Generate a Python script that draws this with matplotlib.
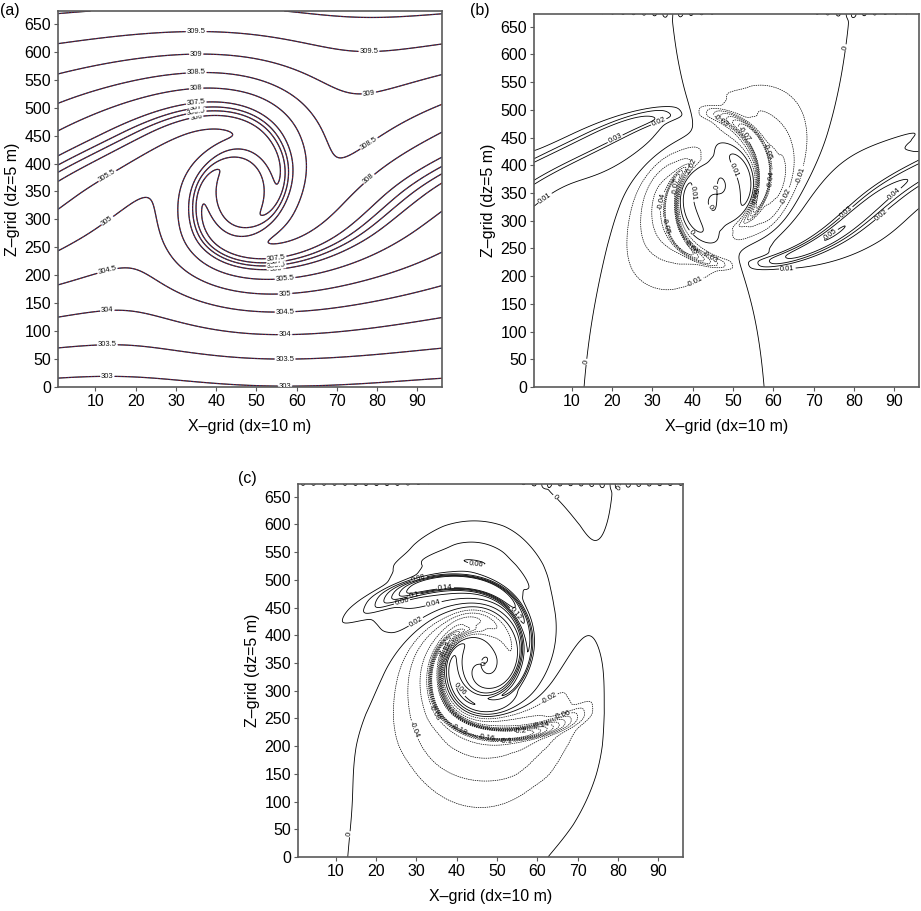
import numpy as np
import matplotlib
matplotlib.use("Agg")
import matplotlib.pyplot as plt

plt.rcParams['font.family'] = ['Liberation Sans', 'DejaVu Sans']

# ---------------- values ----------------
THETA_LEVELS = [303.0, 303.5, 304.0, 304.5, 305.0, 305.5, 306.0, 306.5,
                307.0, 307.5, 308.0, 308.5, 309.0, 309.5, 310.0]
DIFF_B_LEVELS = [-0.07, -0.06, -0.05, -0.04, -0.03, -0.02, -0.01, 0.0,
                 0.01, 0.02, 0.03, 0.04, 0.05]
DIFF_C_LEVELS = [-0.2, -0.18, -0.16, -0.14, -0.12, -0.1, -0.08, -0.06, -0.04,
                 -0.02, 0.0, 0.02, 0.04, 0.06, 0.08, 0.1, 0.12, 0.14]
X_TICKS = [10, 20, 30, 40, 50, 60, 70, 80, 90]
Z_TICKS = [0, 50, 100, 150, 200, 250, 300, 350, 400, 450, 500, 550, 600, 650]
PANEL_TAGS = ['(a)', '(b)', '(c)']
X_LABEL = 'X\u2013grid (dx=10 m)'
Z_LABEL = 'Z\u2013grid (dz=5 m)'

# undisturbed potential temperature profile (height m, K)
BG_Z = [-200, 0, 11, 62, 113, 165, 212, 262, 318, 338, 358, 380, 455, 515, 568, 620, 672, 900]
BG_T = [300.95, 302.92, 303.0, 303.5, 304.0, 304.5, 305.0, 305.5, 306.0, 306.5,
        307.0, 307.5, 308.0, 308.5, 309.0, 309.5, 310.0, 312.2]

# billow (roll-up) parameters
BILLOW_X, BILLOW_Z = 46.0, 348.0     # centre of the billow (grid x, m)
BILLOW_RHO = 0.8                     # cat's-eye concentration
BILLOW_TURN = 1.4                    # amount of roll-up
BILLOW_SCALE = 9.5                   # flow-model metres per x-grid unit
CORE_THETA = 306.75                  # well-mixed billow core
CORE_RADIUS = 75.0
BRAID_LIFT = 35.0                    # braid sits higher than billow centre
# vertical motion dies away from the billow (height above/below centre, factor)
DAMP_DZ = [-400, -290, -200, -150, -100, -40, 100, 180, 250, 330, 400]
DAMP_W = [0.3, 0.3, 0.4, 0.48, 0.62, 1.0, 1.0, 0.65, 0.42, 0.3, 0.3]
X_PERIOD = 96.0
SHIFT_B = 0.25                       # (b): phase shift between the two runs
SHIFT_B_CORE = 0.8                   # (b): the core itself hardly moves
SHIFT_C = 0.1
CONTRACT_C = 0.025                   # (c): tighter roll-up of the second run
TOP_RIPPLE = 0.0012

# where the contour labels of (a) sit along x
LABEL_X_LOW = [13, 57]
LABEL_X_HIGH = [35, 78]
LABEL_X_BILLOW = [35, 55]

XLIM = (0.7, 96.1)
ZLIM = (0, 673)

# smooth version of the background profile
_zf = np.arange(-200.0, 901.0, 1.0)
_tf = np.interp(_zf, BG_Z, BG_T)
_kern = np.exp(-0.5 * (np.arange(-40, 41) / 10.0) ** 2)
_kern /= _kern.sum()
_tf = np.convolve(np.pad(_tf, 40, mode='edge'), _kern, mode='same')[40:-40]


def theta_field(xq, zq, nstep=70):
    """Potential temperature of a rolled-up shear layer (Stuart-vortex advection)."""
    L = X_PERIOD * BILLOW_SCALE
    k = 2 * np.pi / L
    U = 1.0 / k
    lift = BRAID_LIFT * (1 - np.cos(2 * np.pi * (xq - BILLOW_X) / X_PERIOD)) / 2 \
        * np.exp(-((zq - BILLOW_Z) / 100.0) ** 2)
    X0 = (xq - BILLOW_X) * BILLOW_SCALE
    Z0 = zq - lift - BILLOW_Z
    X, Z = X0, Z0

    def vel(X, Z):
        D = np.cosh(k * Z) - BILLOW_RHO * np.cos(k * X)
        g = np.interp(Z, DAMP_DZ, DAMP_W)
        return -U * np.sinh(k * Z) / D, U * BILLOW_RHO * np.sin(k * X) / D * g

    dt = BILLOW_TURN / nstep
    for _ in range(nstep):
        u1, w1 = vel(X, Z)
        u2, w2 = vel(X + 0.5 * dt * u1, Z + 0.5 * dt * w1)
        u3, w3 = vel(X + 0.5 * dt * u2, Z + 0.5 * dt * w2)
        u4, w4 = vel(X + dt * u3, Z + dt * w3)
        X = X + dt / 6 * (u1 + 2 * u2 + 2 * u3 + u4)
        Z = Z + dt / 6 * (w1 + 2 * w2 + 2 * w3 + w4)
    th = np.interp(Z + BILLOW_Z, _zf, _tf)
    # turbulent mixing homogenises the core of the billow
    r = np.hypot(X0, Z0)
    keep = 1 - np.exp(-(r / CORE_RADIUS) ** 4)
    return CORE_THETA + (th - CORE_THETA) * keep


x = np.linspace(XLIM[0], XLIM[1], 390)
z = np.linspace(ZLIM[0], ZLIM[1], 460)
xx, zz = np.meshgrid(x, z)
rr = np.hypot((xx - BILLOW_X) * BILLOW_SCALE, zz - BILLOW_Z)

theta = theta_field(xx, zz)
# (b) second run slightly shifted along x (outer flow only)
shift = SHIFT_B * (1 - SHIFT_B_CORE * np.exp(-(rr / 110.0) ** 4))
diff_b = theta_field(xx - shift, zz) - theta
# (c) second run rolled up more tightly around the billow centre
fac = 1 + CONTRACT_C * np.exp(-(rr / 240.0) ** 4)
diff_c = theta_field(BILLOW_X + (xx - BILLOW_X) * fac - SHIFT_C,
                     BILLOW_Z + (zz - BILLOW_Z) * fac) - theta
# noise at the lid
ripple = TOP_RIPPLE * np.sin(2 * np.pi * xx / 2.6) * np.exp(-(ZLIM[1] - zz) / 3.0)
diff_b = diff_b + ripple
diff_c = diff_c + ripple

# ---------------- figure ----------------
fig = plt.figure(figsize=(9.21, 9.11), dpi=100)
W, H = 921.0, 911.0
ax_a = fig.add_axes([58 / W, 1 - 387 / H, 384 / W, 376 / H])
ax_b = fig.add_axes([534 / W, 1 - 387 / H, 385 / W, 373 / H])
ax_c = fig.add_axes([298 / W, 1 - 857 / H, 385 / W, 373 / H])

SPINE = '#5a5a5a'
for ax in (ax_a, ax_b, ax_c):
    ax.set_xlim(*XLIM)
    ax.set_ylim(*ZLIM)
    ax.set_xticks(X_TICKS)
    ax.set_yticks(Z_TICKS)
    ax.tick_params(direction='out', length=3, width=0.8, color=SPINE,
                   labelsize=11.5, pad=2)
    for s in ax.spines.values():
        s.set_color(SPINE)
        s.set_linewidth(1.2)
    ax.set_xlabel(X_LABEL, fontsize=11.5, labelpad=7)
    ax.set_ylabel(Z_LABEL, fontsize=11.5, labelpad=3)

# (a) theta, three overlaid runs
cs_a = ax_a.contour(x, z, theta, levels=THETA_LEVELS, colors='#111111',
                    linewidths=0.9)
ax_a.contour(x, z, theta, levels=THETA_LEVELS, colors='#e8202a',
             linewidths=0.45, linestyles=[(0, (1.6, 3.0))])
ax_a.contour(x, z, theta, levels=THETA_LEVELS, colors='#4050d0',
             linewidths=0.45, linestyles=[(2.3, (1.6, 3.0))])


def crossings(level, x0):
    ix = int(np.argmin(np.abs(x - x0)))
    col = theta[:, ix]
    s = np.sign(col - level)
    idx = np.where(s[:-1] * s[1:] < 0)[0]
    out = []
    for i in idx:
        f = (level - col[i]) / (col[i + 1] - col[i])
        out.append((x[ix], z[i] + f * (z[i + 1] - z[i])))
    return out


label_pts = []
for lev in THETA_LEVELS[:-1]:
    if lev <= 305.5:
        for xl in LABEL_X_LOW:
            c = crossings(lev, xl)
            if c:
                label_pts.append(c[0])
    elif lev >= 308.0:
        for xl in LABEL_X_HIGH:
            c = crossings(lev, xl)
            if c:
                label_pts.append(c[-1])
    else:
        c = crossings(lev, LABEL_X_BILLOW[0])
        if c:
            label_pts.append(c[-1])
        c = crossings(lev, LABEL_X_BILLOW[1])
        if c:
            label_pts.append(c[0])

ax_a.clabel(cs_a, fmt='%g', fontsize=5.5, inline=True, inline_spacing=1,
            manual=label_pts)
for t in ax_a.texts:
    t.set_bbox(dict(fc='white', ec='none', pad=0.2))
    t.set_zorder(5)


def diff_panel(ax, field, levels):
    neg = [v for v in levels if v < 0]
    pos = [v for v in levels if v >= 0]
    c1 = ax.contour(x, z, field, levels=neg, colors='k', linewidths=0.5,
                    linestyles=[(0, (2.0, 1.2))])
    c2 = ax.contour(x, z, field, levels=pos, colors='k', linewidths=0.6,
                    linestyles='solid')
    ax.clabel(c1, fmt='%g', fontsize=5.5, inline=True, inline_spacing=1)
    ax.clabel(c2, fmt='%g', fontsize=5.5, inline=True, inline_spacing=1)


diff_panel(ax_b, diff_b, DIFF_B_LEVELS)
diff_panel(ax_c, diff_c, DIFF_C_LEVELS)

fig.text(0 / W, 1 - 10 / H, PANEL_TAGS[0], fontsize=11.5, va='center', ha='left')
fig.text(470 / W, 1 - 10 / H, PANEL_TAGS[1], fontsize=11.5, va='center', ha='left')
fig.text(238 / W, 1 - 478 / H, PANEL_TAGS[2], fontsize=11.5, va='center', ha='left')

fig.savefig('out.png', dpi=100)
